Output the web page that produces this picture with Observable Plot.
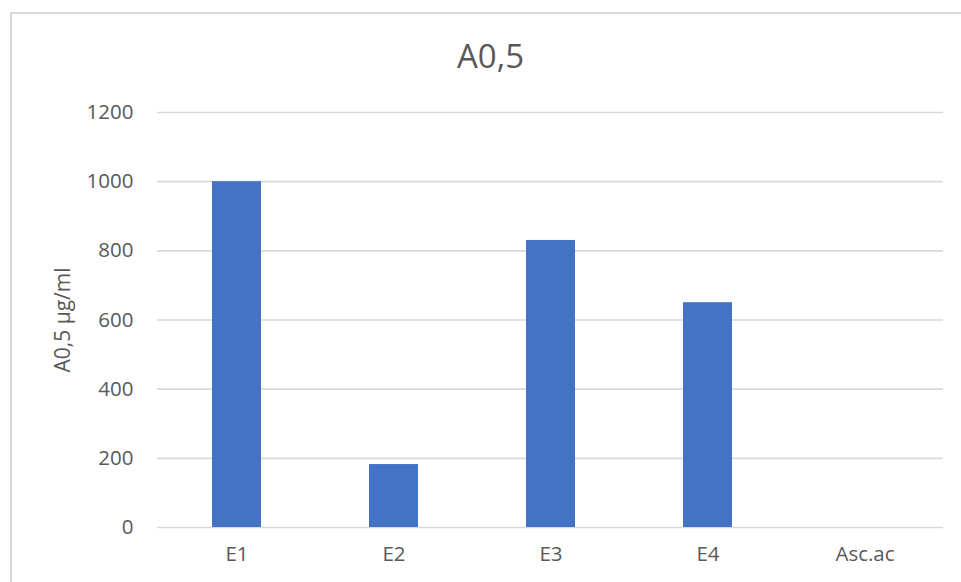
<!DOCTYPE html>
<html>
<head>
<meta charset="utf-8">
<script src="https://cdn.jsdelivr.net/npm/d3@7"></script>
<script src="https://cdn.jsdelivr.net/npm/@observablehq/plot@0.6"></script>
<style>
  html, body { margin: 0; padding: 0; background: #fff; overflow: hidden; width: 961px; height: 582px; }
  #wrap { position: relative; width: 961px; height: 582px; }
  #border { position: absolute; left: 10px; top: 12px; width: 1000px; height: 700px; border: 2px solid #d9d9d9; box-sizing: border-box; pointer-events: none; }
  #chart { position: absolute; left: 0; top: 0; }
</style>
</head>
<body>
<div id="wrap"><div id="border"></div><div id="chart"></div></div>
<script>
const categories = ["E1", "E2", "E3", "E4", "Asc.ac"];
const values = [1000, 182, 830, 650, 0];
const yTicks = [0, 200, 400, 600, 800, 1000, 1200];
const title = "A0,5";
const yLabel = "A0,5 µg/ml";

const data = categories.map((c, i) => ({ cat: c, value: values[i] }));
const font = "'Open Sans', 'Liberation Sans', sans-serif";
const textColor = "#595959";

const chart = Plot.plot({
  width: 961,
  height: 582,
  marginLeft: 157,
  marginRight: 18,
  marginTop: 112,
  marginBottom: 55,
  style: { fontFamily: font, fontSize: "20px", color: textColor, background: "transparent" },
  x: { domain: categories, paddingInner: 0.69, paddingOuter: 0.345, label: null },
  y: { domain: [0, 1200], label: null },
  marks: [
    Plot.ruleY(yTicks, { stroke: "#d9d9d9", strokeWidth: 1.6 }),
    Plot.barY(data, { x: "cat", y: "value", fill: "#4472C4" }),
    Plot.axisY(yTicks, { tickSize: 0, tickPadding: 24, label: null, fontSize: 20.5, fill: textColor, tickFormat: d3.format("d") }),
    Plot.axisX({ tickSize: 0, tickPadding: 19, label: null, fontSize: 20.5, fill: textColor }),
    Plot.text([yLabel], { frameAnchor: "left", dx: -94, rotate: -90, text: d => d, fontSize: 21, fill: textColor, textAnchor: "middle", lineAnchor: "middle" }),
    Plot.text([title], { frameAnchor: "top", dx: -60, dy: -55, text: d => d, fontSize: 33, fill: textColor, textAnchor: "middle", lineAnchor: "middle" })
  ]
});
document.getElementById("chart").appendChild(chart);
</script>
</body>
</html>
